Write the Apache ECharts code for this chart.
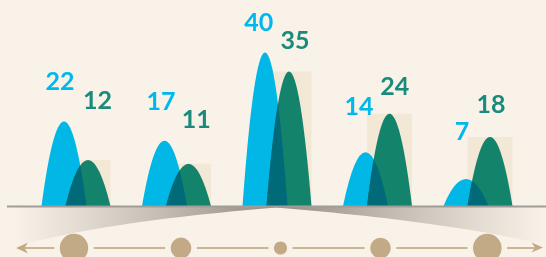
<!DOCTYPE html>
<html>
<head>
<meta charset="utf-8">
<script src="https://cdn.jsdelivr.net/npm/echarts@6/dist/echarts.min.js"></script>
<style>
  html, body { margin: 0; padding: 0; background: #f9f2e8; }
  #chart { width: 546px; height: 257px; }
</style>
</head>
<body>
<div id="chart"></div>
<script>
// data
const categories = ['1', '2', '3', '4', '5'];
const blueValues = [22, 17, 40, 14, 7];
const greenValues = [12, 11, 35, 24, 18];

// look
const BG = '#f9f2e8', BLUE = '#00b7e5', GREEN = '#14836c', DARK = '#006a79', PANEL = '#f3e7d6';
const BLUE_TXT = '#00b9ec', GREEN_TXT = '#1a8b7b';
const BAR_W = 45, SHIFT = 12;  // half the distance between the two peaks
const MOUNTAIN = 'path://M0,10 Q5,-10 10,10 Z';  // parabola

// labels were placed by hand in the original, nudge them the same way
const blueShift = [[-4, -26.5], [-3.5, -25.7], [-6.2, -16.9], [-6.5, -32.2], [-4, -34.6]];
const greenShift = [[9.5, -46.1], [7.8, -30.8], [6, -17.6], [5.2, -14.3], [1, -18.9]];

var chart = echarts.init(document.getElementById('chart'), null, { renderer: 'canvas' });

function parabolaTop(x, cx, h) {
  var t = (x - cx) / (BAR_W / 2);
  return h * (1 - t * t);
}

// beige panel behind the green mountain
function renderPanel(params, api) {
  var i = api.value(0);
  var base = api.coord([i, 0]), top = api.coord([i, api.value(1)]);
  var cx = base[0] + SHIFT;
  return {
    type: 'rect',
    shape: { x: cx - BAR_W / 2, y: top[1], width: BAR_W, height: base[1] - top[1] },
    style: { fill: PANEL }
  };
}

// dark part where blue and green overlap
function renderOverlap(params, api) {
  var i = api.value(0);
  var base = api.coord([i, 0]);
  var hb = base[1] - api.coord([i, api.value(1)])[1];
  var hg = base[1] - api.coord([i, api.value(2)])[1];
  var cb = base[0] - SHIFT, cg = base[0] + SHIFT;
  var x0 = cg - BAR_W / 2, x1 = cb + BAR_W / 2;
  var pts = [[x0, base[1]]];
  for (var k = 0; k <= 40; k++) {
    var x = x0 + (x1 - x0) * k / 40;
    var h = Math.min(parabolaTop(x, cb, hb), parabolaTop(x, cg, hg));
    pts.push([x, base[1] - Math.max(h, 0)]);
  }
  pts.push([x1, base[1]]);
  return { type: 'polygon', shape: { points: pts }, style: { fill: DARK } };
}

// quadratic curve points for the shadow wedges
function quad(p0, p1, p2, n) {
  var out = [];
  for (var k = 0; k <= n; k++) {
    var t = k / n, a = (1 - t) * (1 - t), b = 2 * (1 - t) * t, c = t * t;
    out.push([a * p0[0] + b * p1[0] + c * p2[0], a * p0[1] + b * p1[1] + c * p2[1]]);
  }
  return out;
}

var leftWedge = [[276, 207]].concat([[14, 207]], quad([14, 247], [100, 222], [276, 207.5], 30));
var rightWedge = [[276, 207]].concat([[546, 207]], quad([546, 245], [452, 222], [276, 207.5], 30));

// decorative arrow row
const dotX = [74, 181, 280.5, 380.5, 487.3];
const dotR = [14.2, 10.4, 6.6, 10.3, 14.3];
const ROW_Y = 248, GAP = 5.5;
var rowEls = [];
var stops = [24];
dotX.forEach(function (x, i) { stops.push(x - dotR[i] - GAP, x + dotR[i] + GAP); });
stops.push(535);
for (var s = 0; s < stops.length; s += 2) {
  rowEls.push({ type: 'line', shape: { x1: stops[s], y1: ROW_Y, x2: stops[s + 1], y2: ROW_Y },
    style: { stroke: '#cbb692', lineWidth: 2 }, z: 5 });
}
dotX.forEach(function (x, i) {
  rowEls.push({ type: 'circle', shape: { cx: x, cy: ROW_Y, r: dotR[i] }, style: { fill: '#c2aa87' }, z: 5 });
});
rowEls.push({ type: 'polygon', shape: { points: [[16, 248], [28, 242.5], [24.5, 248], [28, 253.5]] }, style: { fill: '#c2aa87' }, z: 5 });
rowEls.push({ type: 'polygon', shape: { points: [[543, 247.5], [531.5, 242.5], [535, 247.5], [531.5, 252.5]] }, style: { fill: '#c2aa87' }, z: 5 });

var labelStyle = {
  show: true,
  position: 'top',
  distance: 0,
  fontFamily: 'Lato',
  fontWeight: 'bold',
  fontSize: 25,
  lineHeight: 26
};

var option = {
  backgroundColor: BG,
  animation: false,
  grid: { left: 25.75, right: 17.75, top: 14, bottom: 51 },
  xAxis: {
    type: 'category',
    data: categories,
    axisLine: { show: false },
    axisTick: { show: false },
    axisLabel: { show: false }
  },
  yAxis: {
    type: 'value',
    min: 0,
    max: 50,
    show: false,
    splitLine: { show: false }
  },
  graphic: [
    { type: 'polygon', shape: { points: leftWedge }, z: 1,
      style: { fill: new echarts.graphic.LinearGradient(0, 0, 1, 0, [
        { offset: 0, color: 'rgba(160,152,142,0)' }, { offset: 1, color: 'rgba(140,134,127,0.95)' }]) } },
    { type: 'polygon', shape: { points: rightWedge }, z: 1,
      style: { fill: new echarts.graphic.LinearGradient(0, 0, 1, 0, [
        { offset: 0, color: 'rgba(140,134,127,0.95)' }, { offset: 1, color: 'rgba(160,152,142,0)' }]) } },
    { type: 'line', shape: { x1: 7, y1: 206.5, x2: 546, y2: 206.5 }, style: { stroke: '#a09d98', lineWidth: 2 }, z: 10 }
  ].concat(rowEls),
  series: [
    {
      type: 'custom',
      z: 1,
      renderItem: renderPanel,
      data: greenValues.map(function (v, i) { return [i, v]; }),
      silent: true
    },
    {
      type: 'pictorialBar',
      name: 'blue',
      z: 2,
      symbol: MOUNTAIN,
      symbolSize: ['100%', '100%'],
      barWidth: BAR_W,
      barGap: '-46.67%',
      itemStyle: { color: BLUE },
      label: Object.assign({ color: BLUE_TXT }, labelStyle),
      data: blueValues.map(function (v, i) { return { value: v, label: { offset: blueShift[i] } }; })
    },
    {
      type: 'pictorialBar',
      name: 'green',
      z: 2,
      symbol: MOUNTAIN,
      symbolSize: ['100%', '100%'],
      barWidth: BAR_W,
      barGap: '-46.67%',
      itemStyle: { color: GREEN },
      label: Object.assign({ color: GREEN_TXT }, labelStyle),
      data: greenValues.map(function (v, i) { return { value: v, label: { offset: greenShift[i] } }; })
    },
    {
      type: 'custom',
      z: 3,
      renderItem: renderOverlap,
      data: blueValues.map(function (v, i) { return [i, v, greenValues[i]]; }),
      silent: true
    }
  ]
};

chart.setOption(option);
</script>
</body>
</html>
